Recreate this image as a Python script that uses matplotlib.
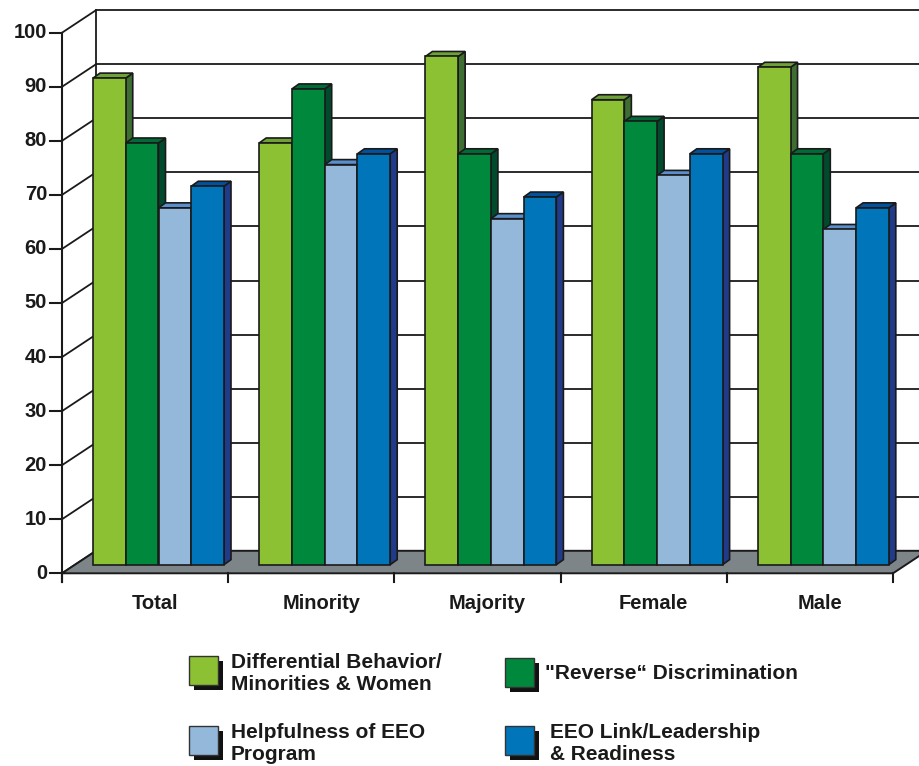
import matplotlib
matplotlib.use("Agg")
import matplotlib.pyplot as plt
from matplotlib.patches import Polygon, Rectangle

# data
categories = ["Total", "Minority", "Majority", "Female", "Male"]
diff_behavior = [90, 78, 94, 86, 92]
reverse_disc = [78, 88, 76, 82, 76]
helpfulness = [66, 74, 64, 72, 62]
eeo_link = [70, 76, 68, 76, 66]
yticks = list(range(0, 101, 10))

series_labels = ["Differential Behavior/\nMinorities & Women",
                 "\"Reverse\u201c Discrimination",
                 "Helpfulness of EEO\nProgram",
                 "EEO Link/Leadership\n& Readiness"]
front_colors = ["#8cc133", "#00893c", "#93b8da", "#0075ba"]
top_colors = ["#6fa236", "#006b36", "#5a8fcb", "#00529e"]
side_colors = ["#3e6e31", "#004b2d", "#3a6ba8", "#203b8a"]

W, H = 920, 766
PX_CAT = 166.2      # pixels per category
PX_VAL = 5.406      # pixels per value unit
X0, Y0 = 62, 573.3  # pixel position of the front origin

FONT = "Liberation Sans"
EDGE = "#1a1a1a"
TXT = "#1a1a1a"

fig = plt.figure(figsize=(W / 100, H / 100), dpi=100)
ax = fig.add_axes([0, 0, 1, 1])
ax.set_xlim(-X0 / PX_CAT, (W - X0) / PX_CAT)
ax.set_ylim((Y0 - H) / PX_VAL, Y0 / PX_VAL)
ax.axis("off")

ncat = len(categories)
wdx, wdy = 34 / PX_CAT, 22.5 / PX_VAL     # depth of wall/floor
bdx, bdy = 7 / PX_CAT, 5 / PX_VAL          # depth of each bar
base = 1.6                                  # bar baseline (bars sit inside the floor)
first = 31 / PX_CAT                         # offset of first bar in a group
bw = 32.75 / PX_CAT

# back wall grid
for v in yticks:
    ax.plot([wdx, ncat + wdx], [v + wdy, v + wdy], color=EDGE, lw=1.3, zorder=1)
    ax.plot([0, wdx], [v, v + wdy], color=EDGE, lw=1.3, zorder=1)
    ax.plot([-0.072, 0], [v, v], color=EDGE, lw=1.5, zorder=1)
    ax.text(-0.09, v, str(v), ha="right", va="center", fontsize=14.5,
            fontweight="bold", family=FONT, color=TXT)
ax.plot([wdx, wdx], [wdy, 100 + wdy], color=EDGE, lw=1.3, zorder=1)
ax.plot([0, 0], [-1.6, 100], color=EDGE, lw=1.5, zorder=1)

# floor
floor = Polygon([(0, 0), (ncat, 0), (ncat + wdx, wdy), (wdx, wdy)],
                closed=True, facecolor="#7e8589", edgecolor=EDGE, lw=1.4, zorder=2)
ax.add_patch(floor)
for i in range(ncat + 1):
    ax.plot([i, i], [0, -1.6], color=EDGE, lw=1.5, zorder=2)

# bars, left to right so that the next bar hides the side of the previous one
series = [diff_behavior, reverse_disc, helpfulness, eeo_link]
z = 3
for i in range(ncat):
    for k, vals in enumerate(series):
        x = i + first + k * bw
        top = base + vals[i]
        side = Polygon([(x + bw, base), (x + bw + bdx, base + bdy),
                        (x + bw + bdx, top + bdy), (x + bw, top)],
                       closed=True, facecolor=side_colors[k], edgecolor=EDGE, lw=1.2, zorder=z)
        cap = Polygon([(x, top), (x + bw, top), (x + bw + bdx, top + bdy), (x + bdx, top + bdy)],
                      closed=True, facecolor=top_colors[k], edgecolor=EDGE, lw=1.2, zorder=z)
        front = Rectangle((x, base), bw, vals[i], facecolor=front_colors[k],
                          edgecolor=EDGE, lw=1.2, zorder=z + 1)
        ax.add_patch(side)
        ax.add_patch(cap)
        ax.add_patch(front)
        z += 2
    ax.text(i + 0.56, -5.5, categories[i], ha="center", va="center", fontsize=14.5,
            fontweight="bold", family=FONT, color=TXT)

# legend (figure pixel positions)
def fx(px):
    return px / W

def fy(py):
    return 1 - py / H

legend_pos = [(189, 656, 231), (505, 658, 545), (189, 726, 231), (505, 726, 550)]
for k, (sx, sy, tx) in enumerate(legend_pos):
    s = 29
    fig.patches.append(Rectangle((fx(sx + 5), fy(sy + s + 5)), s / W, s / H,
                                 facecolor="#111111", edgecolor="none",
                                 transform=fig.transFigure, figure=fig))
    fig.patches.append(Rectangle((fx(sx), fy(sy + s)), s / W, s / H,
                                 facecolor=front_colors[k], edgecolor="#333333", lw=1.0,
                                 transform=fig.transFigure, figure=fig))
    off = 3 if "\n" in series_labels[k] else 1
    fig.text(fx(tx), fy(sy + s / 2 + off), series_labels[k], ha="left", va="center",
             fontsize=15, fontweight="bold", family=FONT, color=TXT,
             linespacing=1.2)

fig.savefig("out.png", dpi=100)
